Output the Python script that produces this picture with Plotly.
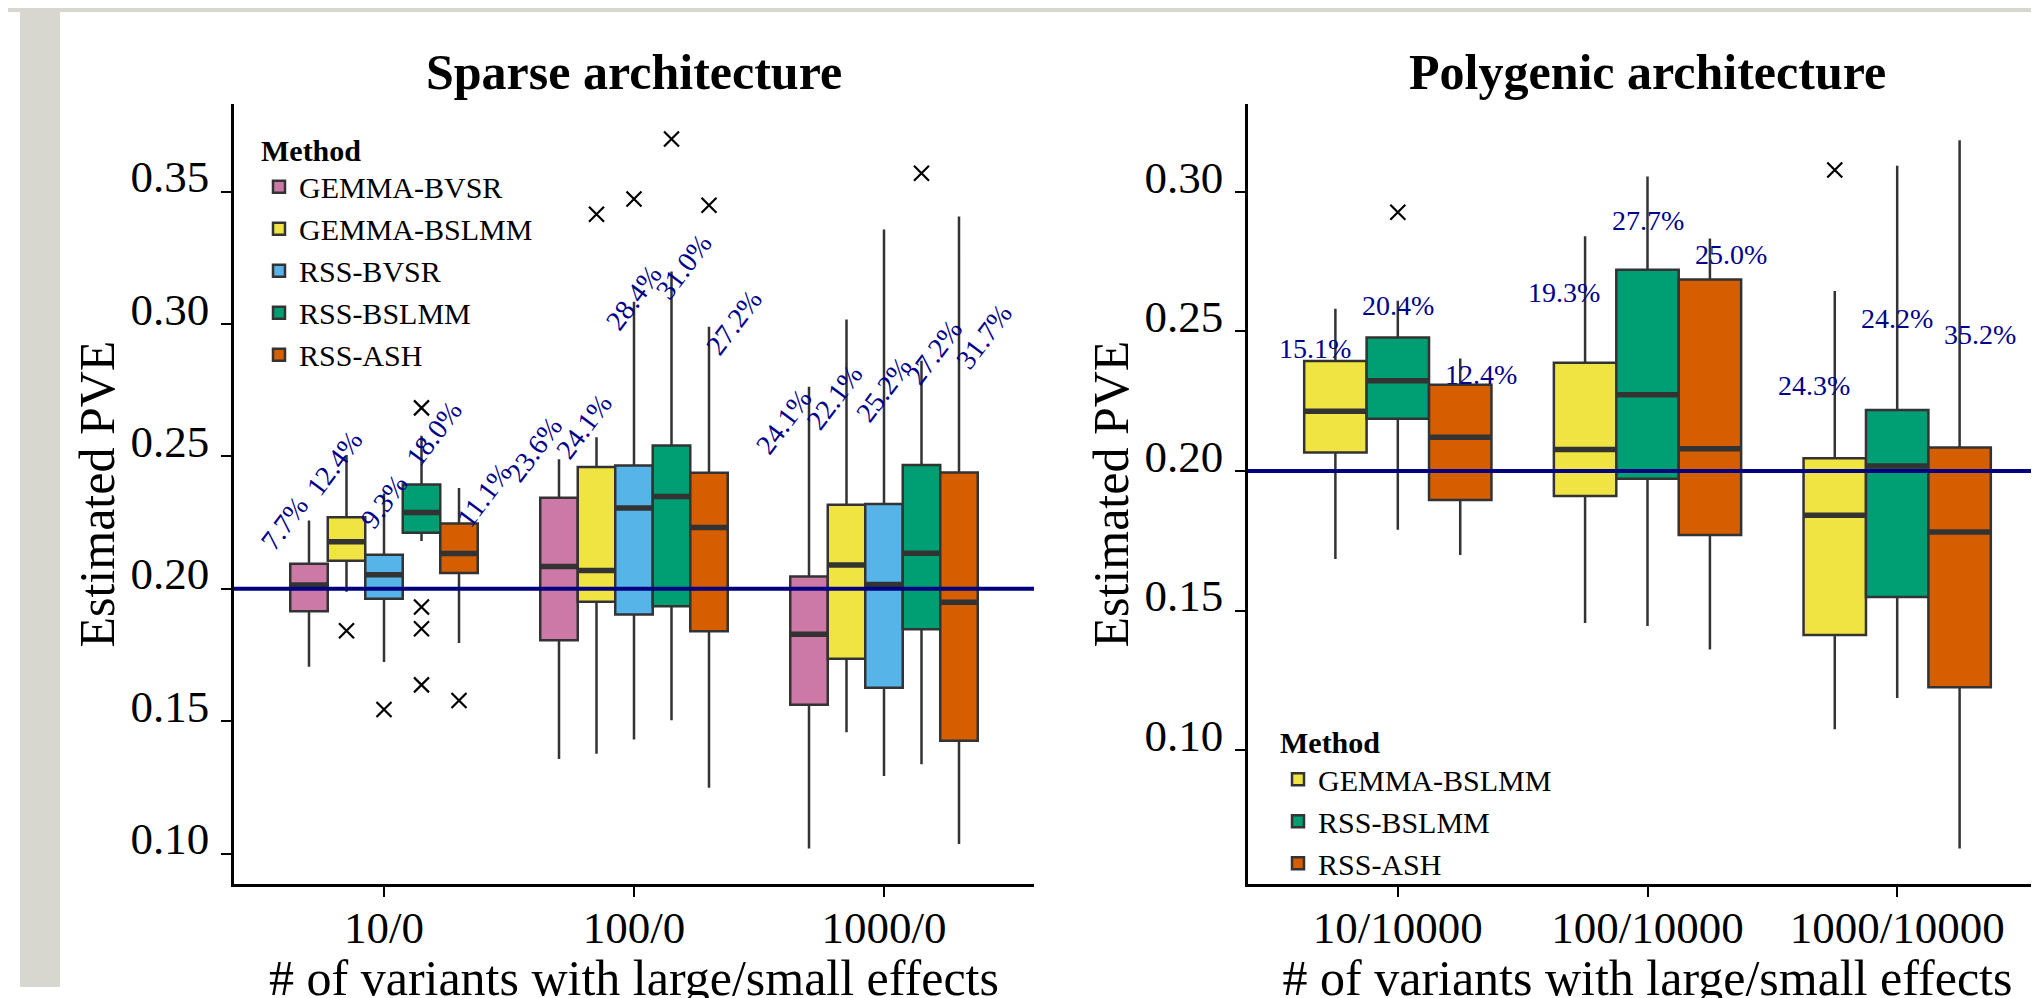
import plotly.graph_objects as go

# ---------------- data ----------------
sparse_categories = ["10/0", "100/0", "1000/0"]
poly_categories = ["10/10000", "100/10000", "1000/10000"]

sparse_methods = ["GEMMA-BVSR", "GEMMA-BSLMM", "RSS-BVSR", "RSS-BSLMM", "RSS-ASH"]
poly_methods = ["GEMMA-BSLMM", "RSS-BSLMM", "RSS-ASH"]

true_pve = 0.20

# Sparse architecture: one row per method, one value per category
sparse_lower = [[0.1705, 0.1357, 0.1019],
                [0.1989, 0.1377, 0.1458],
                [0.1723, 0.1431, 0.1293],
                [0.2180, 0.1503, 0.1337],
                [0.1795, 0.1248, 0.1036]]
sparse_q1 = [[0.1915, 0.1805, 0.1562],
             [0.2106, 0.1951, 0.1736],
             [0.1962, 0.1903, 0.1626],
             [0.2211, 0.1934, 0.1847],
             [0.2059, 0.1839, 0.1426]]
sparse_median = [[0.2014, 0.2084, 0.1828],
                 [0.2177, 0.2069, 0.2090],
                 [0.2053, 0.2305, 0.2016],
                 [0.2288, 0.2348, 0.2134],
                 [0.2133, 0.2231, 0.1949]]
sparse_q3 = [[0.2094, 0.2344, 0.2046],
             [0.2270, 0.2460, 0.2317],
             [0.2128, 0.2465, 0.2320],
             [0.2394, 0.2541, 0.2467],
             [0.2246, 0.2438, 0.2439]]
sparse_upper = [[0.2258, 0.2489, 0.2763],
                [0.2505, 0.2572, 0.3017],
                [0.2360, 0.3084, 0.3357],
                [0.2578, 0.3198, 0.2861],
                [0.2380, 0.2989, 0.3406]]
sparse_outliers = [[[], [], []],
                   [[0.1841], [0.3414], []],
                   [[0.1544], [0.3472], []],
                   [[0.2683, 0.1931, 0.1849, 0.1637], [0.3698], [0.3569]],
                   [[0.1578], [0.3448], []]]
sparse_label_text = [["7.7%", "23.6%", "24.1%"],
                     ["12.4%", "24.1%", "22.1%"],
                     ["9.3%", "28.4%", "25.2%"],
                     ["18.0%", "31.0%", "27.2%"],
                     ["11.1%", "27.2%", "31.7%"]]
sparse_label_y = [[0.2248, 0.2526, 0.2630],
                  [0.2474, 0.2612, 0.2724],
                  [0.2329, 0.3098, 0.2751],
                  [0.2585, 0.3215, 0.2893],
                  [0.2352, 0.3005, 0.2952]]

# Polygenic architecture
poly_lower = [[0.1685, 0.1456, 0.1075],
              [0.1790, 0.1445, 0.1187],
              [0.1699, 0.1361, 0.0648]]
poly_q1 = [[0.2066, 0.1911, 0.1413],
           [0.2187, 0.1972, 0.1549],
           [0.1896, 0.1771, 0.1226]]
poly_median = [[0.2214, 0.2077, 0.1842],
               [0.2323, 0.2273, 0.2018],
               [0.2121, 0.2080, 0.1782]]
poly_q3 = [[0.2394, 0.2388, 0.2046],
           [0.2478, 0.2721, 0.2219],
           [0.2309, 0.2686, 0.2084]]
poly_upper = [[0.2581, 0.2841, 0.2645],
              [0.2610, 0.3055, 0.3093],
              [0.2403, 0.2833, 0.3185]]
poly_outliers = [[[], [], [0.3078]],
                 [[0.2927], [], []],
                 [[], [], []]]
poly_label_text = [["15.1%", "19.3%", "24.3%"],
                   ["20.4%", "27.7%", "24.2%"],
                   ["12.4%", "25.0%", "35.2%"]]
poly_label_y = [[0.2440, 0.2640, 0.2305],
                [0.2593, 0.2897, 0.2546],
                [0.2347, 0.2774, 0.2489]]

# ---------------- style ----------------
method_colors = {
    "GEMMA-BVSR": "#CC79A7",
    "GEMMA-BSLMM": "#F0E442",
    "RSS-BVSR": "#56B4E9",
    "RSS-BSLMM": "#009E73",
    "RSS-ASH": "#D55E00",
}
FONT = "Liberation Serif"
EDGE = "#333333"
LABEL_COLOR = "#00008B"
BOX_DODGE = 0.75
LABEL_DODGE = 1.0
W, H = 2039, 998

fig = go.Figure()
annotations = []


def add_panel(methods, cats, lower, q1, med, q3, upper, outl, ltxt, ly,
              xa, ya, legend_name, label_angle):
    n = len(methods)
    bw = BOX_DODGE / n
    lw = LABEL_DODGE / n
    for j, m in enumerate(methods):
        off = (j - (n - 1) / 2) * bw
        loff = (j - (n - 1) / 2) * lw
        xs = [i + 1 + off for i in range(len(cats))]
        fig.add_trace(go.Box(
            x=xs, q1=q1[j], median=med[j], q3=q3[j],
            lowerfence=lower[j], upperfence=upper[j],
            width=bw, whiskerwidth=0, boxpoints=False,
            fillcolor=method_colors[m], line=dict(color=EDGE, width=2.5),
            name=m, legend=legend_name, xaxis=xa, yaxis=ya,
            hoverinfo="skip",
        ))
        # thicker median bars
        mx, my = [], []
        for x, v in zip(xs, med[j]):
            mx += [x - bw / 2, x + bw / 2, None]
            my += [v, v, None]
        fig.add_trace(go.Scatter(
            x=mx, y=my, mode="lines", line=dict(color=EDGE, width=5.5),
            showlegend=False, hoverinfo="skip", xaxis=xa, yaxis=ya,
        ))
        # outliers
        ox, oy = [], []
        for x, vals in zip(xs, outl[j]):
            for v in vals:
                ox.append(x)
                oy.append(v)
        if ox:
            fig.add_trace(go.Scatter(
                x=ox, y=oy, mode="markers",
                marker=dict(symbol="x-thin", size=15,
                            line=dict(color="black", width=2.2)),
                showlegend=False, hoverinfo="skip", xaxis=xa, yaxis=ya,
            ))
        # percentage labels
        for i in range(len(cats)):
            annotations.append(dict(
                x=i + 1 + loff, y=ly[j][i], xref=xa, yref=ya,
                text=ltxt[j][i], showarrow=False, textangle=label_angle,
                xanchor="center", yanchor="middle",
                font=dict(family=FONT, size=28, color=LABEL_COLOR),
            ))


add_panel(sparse_methods, sparse_categories, sparse_lower, sparse_q1,
          sparse_median, sparse_q3, sparse_upper, sparse_outliers,
          sparse_label_text, sparse_label_y, "x", "y", "legend", -53)
add_panel(poly_methods, poly_categories, poly_lower, poly_q1,
          poly_median, poly_q3, poly_upper, poly_outliers,
          poly_label_text, poly_label_y, "x2", "y2", "legend2", 0)

# panel layout (pixel based)
left_x = [226 / W, 1026 / W]
right_x = [1240 / W, 1.0]
ydom = [(H - 893) / H, (H - 98) / H]

axis_common = dict(
    showline=True, linecolor="black", linewidth=2.5,
    ticks="outside", ticklen=10, tickwidth=2, tickcolor="black",
    showgrid=False, zeroline=False,
    tickfont=dict(family=FONT, size=45, color="black"),
)
xaxis_extra = dict(ticklabelstandoff=-8)
yaxis_extra = dict(ticklabelshift=-15, ticklabelstandoff=3)
xtitle = "# of variants with large/small effects"

fig.update_layout(
    width=W, height=998,
    margin=dict(l=0, r=0, t=0, b=0),
    paper_bgcolor="white", plot_bgcolor="white",
    boxmode="overlay",
    font=dict(family=FONT, color="black"),
    xaxis=dict(domain=left_x, range=[0.4, 3.6], tickvals=[1, 2, 3],
               ticktext=sparse_categories, anchor="y",
               title=dict(text=xtitle, font=dict(family=FONT, size=50),
                          standoff=18),
               **axis_common, **xaxis_extra),
    yaxis=dict(domain=ydom, range=[0.0885, 0.383], anchor="x",
               tickvals=[0.10, 0.15, 0.20, 0.25, 0.30, 0.35],
               tickformat=".2f",
               title=dict(text="Estimated PVE", font=dict(family=FONT, size=50),
                          standoff=0),
               **axis_common, **yaxis_extra),
    xaxis2=dict(domain=right_x, range=[0.4, 3.6], tickvals=[1, 2, 3],
                ticktext=poly_categories, anchor="y2",
                title=dict(text=xtitle, font=dict(family=FONT, size=50),
                           standoff=18),
                **axis_common, **xaxis_extra),
    yaxis2=dict(domain=ydom, range=[0.0521, 0.3314], anchor="x2",
                tickvals=[0.10, 0.15, 0.20, 0.25, 0.30],
                tickformat=".2f",
                title=dict(text="Estimated PVE", font=dict(family=FONT, size=50),
                           standoff=0),
                **axis_common, **yaxis_extra),
    legend=dict(x=251 / W, y=(H - 116) / H, xanchor="left", yanchor="top",
                bgcolor="rgba(0,0,0,0)", traceorder="normal",
                font=dict(family=FONT, size=30, color="black"),
                title=dict(text="<b>Method</b>",
                           font=dict(family=FONT, size=30, color="black"))),
    legend2=dict(x=1270 / W, y=(H - 720) / H, xanchor="left", yanchor="top",
                 bgcolor="rgba(0,0,0,0)", traceorder="normal",
                 font=dict(family=FONT, size=30, color="black"),
                 title=dict(text="<b>Method</b>",
                            font=dict(family=FONT, size=30, color="black"))),
)

# panel titles
for txt, dom in (("Sparse architecture", left_x),
                 ("Polygenic architecture", right_x)):
    annotations.append(dict(
        x=(dom[0] + dom[1]) / 2, y=(H - 65) / H, xref="paper", yref="paper",
        text="<b>%s</b>" % txt, showarrow=False,
        xanchor="center", yanchor="middle",
        font=dict(family=FONT, size=50, color="black"),
    ))

fig.update_layout(annotations=annotations)

# true PVE reference lines and slide border
shapes = [
    dict(type="line", xref="x domain", yref="y", x0=0, x1=1,
         y0=true_pve, y1=true_pve, line=dict(color="#000080", width=4),
         layer="above"),
    dict(type="line", xref="x2 domain", yref="y2", x0=0, x1=1,
         y0=true_pve, y1=true_pve, line=dict(color="#000080", width=4),
         layer="above"),
    dict(type="rect", xref="paper", yref="paper", x0=12 / W, x1=52 / W,
         y0=0, y1=1, fillcolor="#d7d7cf", line=dict(width=0), layer="below"),
    dict(type="rect", xref="paper", yref="paper", x0=0, x1=1,
         y0=(H - 4) / H, y1=1, fillcolor="#d7d7cf", line=dict(width=0),
         layer="below"),
]
fig.update_layout(shapes=shapes)

fig.write_html("out.html")
